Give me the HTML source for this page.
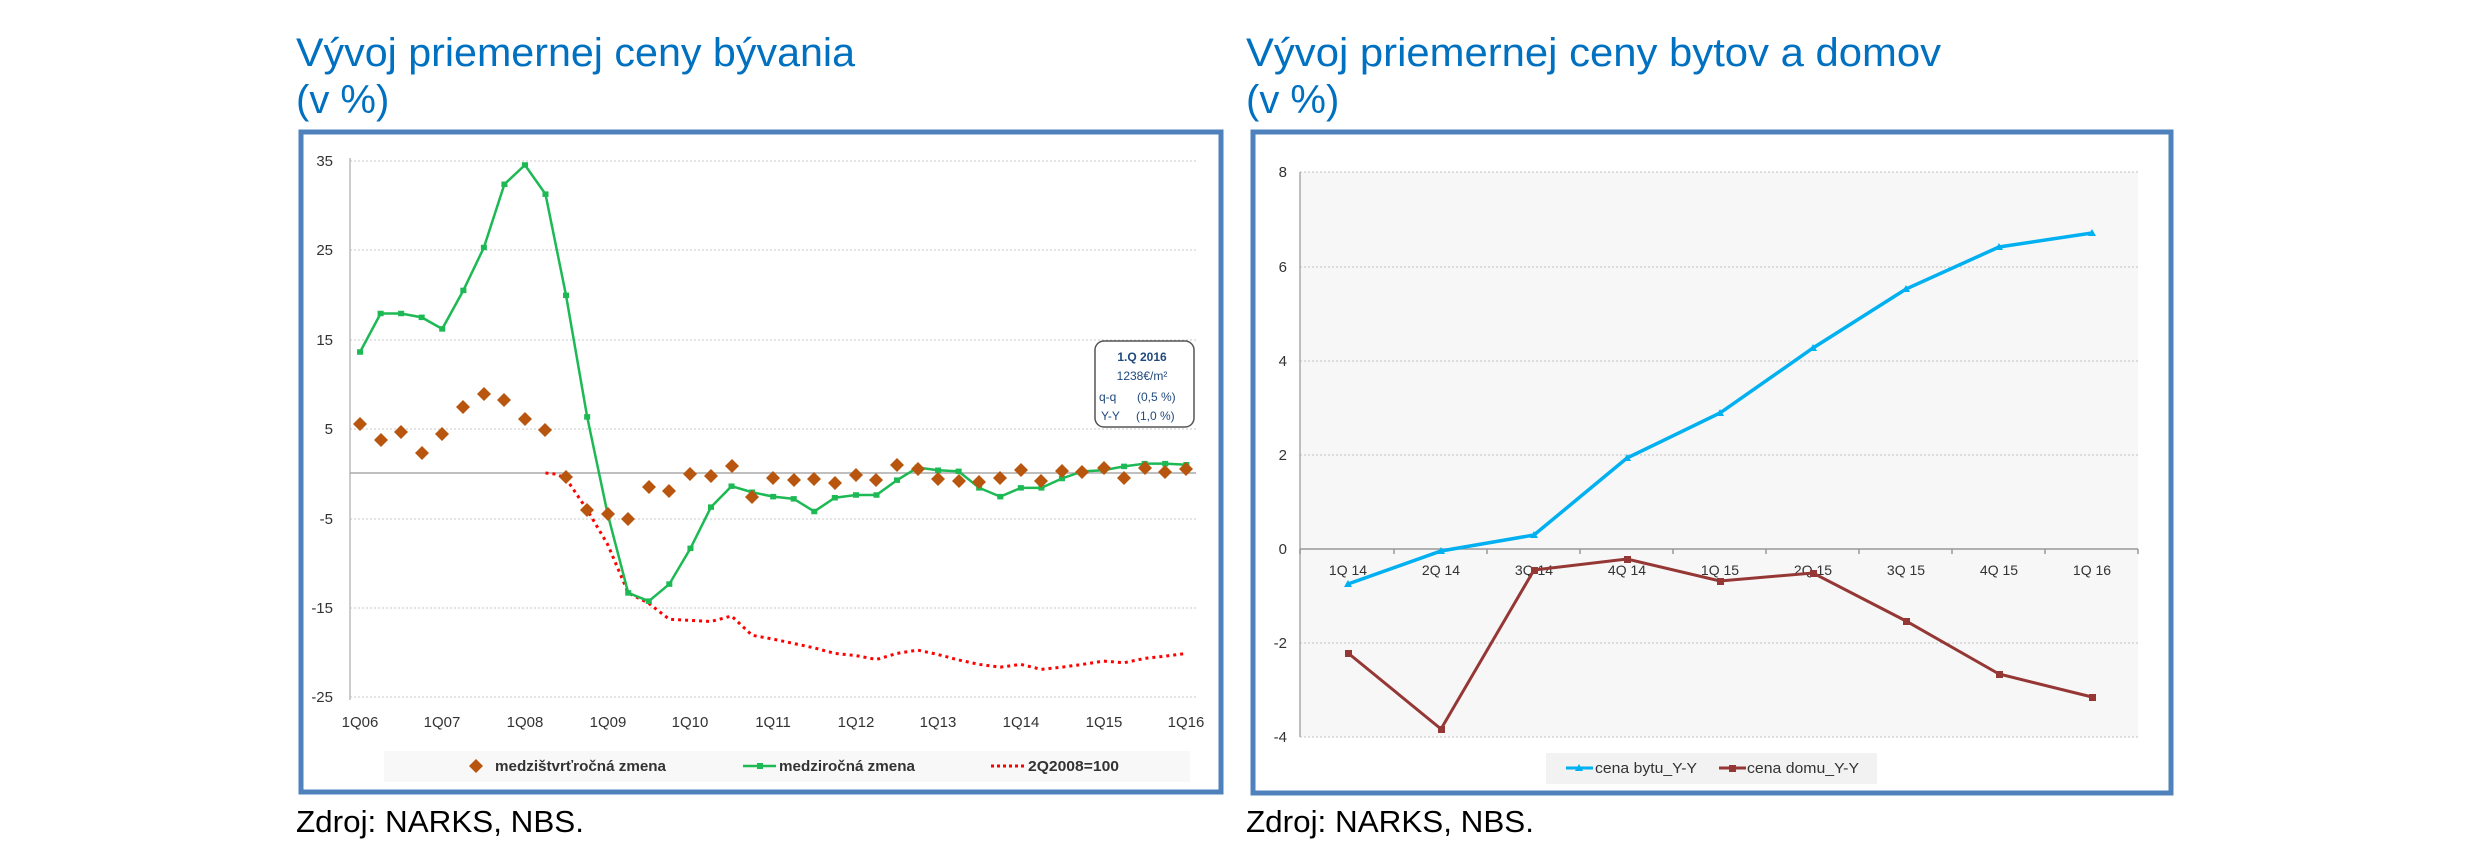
<!DOCTYPE html>
<html><head><meta charset="utf-8"><style>html,body{margin:0;padding:0;background:#fff}svg{display:block}text{font-family:"Liberation Sans","DejaVu Sans",sans-serif}</style></head>
<body>
<svg width="2481" height="861" viewBox="0 0 2481 861" xmlns="http://www.w3.org/2000/svg">
<rect width="2481" height="861" fill="#fff"/>
<!-- Titles -->
<g fill="#0070C0" font-size="40">
<text x="296" y="66" textLength="559" lengthAdjust="spacingAndGlyphs">Vývoj priemernej ceny bývania</text>
<text x="296" y="113">(v %)</text>
<text x="1246" y="66" textLength="695" lengthAdjust="spacingAndGlyphs">Vývoj priemernej ceny bytov a domov</text>
<text x="1246" y="113">(v %)</text>
</g>
<g fill="#000" font-size="31">
<text x="296" y="832" textLength="288" lengthAdjust="spacingAndGlyphs">Zdroj: NARKS, NBS.</text>
<text x="1246" y="832" textLength="288" lengthAdjust="spacingAndGlyphs">Zdroj: NARKS, NBS.</text>
</g>
<!-- Frames -->
<rect x="301" y="132" width="920" height="660" fill="#fff" stroke="#4F81BD" stroke-width="5"/>
<rect x="1253" y="132" width="918" height="661" fill="#fff" stroke="#4F81BD" stroke-width="5"/>

<!-- LEFT CHART -->
<g stroke="#c8c8c8" stroke-width="1" stroke-dasharray="2,2">
<line x1="350" y1="161" x2="1196" y2="161"/><line x1="350" y1="250" x2="1196" y2="250"/>
<line x1="350" y1="340" x2="1196" y2="340"/><line x1="350" y1="429" x2="1196" y2="429"/>
<line x1="350" y1="519" x2="1196" y2="519"/><line x1="350" y1="608" x2="1196" y2="608"/>
<line x1="350" y1="697" x2="1196" y2="697"/>
</g>
<line x1="350" y1="158" x2="350" y2="700" stroke="#bbb" stroke-width="1.5"/>
<line x1="350" y1="473" x2="1196" y2="473" stroke="#aaa" stroke-width="1.5"/>
<g fill="#333" font-size="15" text-anchor="end">
<text x="333" y="166">35</text><text x="333" y="255">25</text><text x="333" y="345">15</text>
<text x="333" y="434">5</text><text x="333" y="524">-5</text><text x="333" y="613">-15</text><text x="333" y="702">-25</text>
</g>
<g fill="#333" font-size="15" text-anchor="middle">
<text x="360" y="727">1Q06</text><text x="442" y="727">1Q07</text><text x="525" y="727">1Q08</text>
<text x="608" y="727">1Q09</text><text x="690" y="727">1Q10</text><text x="773" y="727">1Q11</text>
<text x="856" y="727">1Q12</text><text x="938" y="727">1Q13</text><text x="1021" y="727">1Q14</text>
<text x="1104" y="727">1Q15</text><text x="1186" y="727">1Q16</text>
</g>
<g transform="translate(290,0) scale(0.604,0.55)">
<polyline fill="none" stroke="#FF0000" stroke-width="3" stroke-dasharray="3,4" vector-effect="non-scaling-stroke" points="423,860 440,862 457,870 492,927 526,990 560,1078 594,1097 628,1126 663,1128 697,1130 731,1120 765,1155 800,1162 834,1170 868,1178 902,1188 937,1192 971,1199 1005,1188 1039,1182 1073,1190 1107,1200 1141,1208 1176,1213 1210,1208 1244,1217 1278,1213 1312,1208 1347,1202 1381,1205 1415,1197 1449,1193 1484,1188"/>
<polyline id="g" fill="none" stroke="#1DB954" stroke-width="2.5" vector-effect="non-scaling-stroke" points="116,640 150,570 184,570 218,577 252,598 287,528 321,450 355,335 389,300 423,353 457,537 492,758 526,935 560,1078 594,1093 628,1062 663,997 697,922 731,884 765,895 800,903 834,907 868,930 902,905 937,900 971,900 1005,873 1039,850 1073,855 1107,857 1141,887 1176,903 1210,887 1244,887 1278,870 1312,857 1347,855 1381,848 1415,843 1449,843 1484,845"/>
<g fill="#1DB954">
<rect x="111" y="635" width="10" height="10"/><rect x="145" y="565" width="10" height="10"/><rect x="179" y="565" width="10" height="10"/><rect x="213" y="572" width="10" height="10"/><rect x="247" y="593" width="10" height="10"/><rect x="282" y="523" width="10" height="10"/><rect x="316" y="445" width="10" height="10"/><rect x="350" y="330" width="10" height="10"/><rect x="384" y="295" width="10" height="10"/><rect x="418" y="348" width="10" height="10"/><rect x="452" y="532" width="10" height="10"/><rect x="487" y="753" width="10" height="10"/><rect x="555" y="1073" width="10" height="10"/><rect x="589" y="1088" width="10" height="10"/><rect x="623" y="1057" width="10" height="10"/><rect x="658" y="992" width="10" height="10"/><rect x="692" y="917" width="10" height="10"/><rect x="726" y="879" width="10" height="10"/><rect x="760" y="890" width="10" height="10"/><rect x="795" y="898" width="10" height="10"/><rect x="829" y="902" width="10" height="10"/><rect x="863" y="925" width="10" height="10"/><rect x="897" y="900" width="10" height="10"/><rect x="932" y="895" width="10" height="10"/><rect x="966" y="895" width="10" height="10"/><rect x="1000" y="868" width="10" height="10"/><rect x="1034" y="845" width="10" height="10"/><rect x="1068" y="850" width="10" height="10"/><rect x="1102" y="852" width="10" height="10"/><rect x="1136" y="882" width="10" height="10"/><rect x="1171" y="898" width="10" height="10"/><rect x="1205" y="882" width="10" height="10"/><rect x="1239" y="882" width="10" height="10"/><rect x="1273" y="865" width="10" height="10"/><rect x="1307" y="852" width="10" height="10"/><rect x="1342" y="850" width="10" height="10"/><rect x="1376" y="843" width="10" height="10"/><rect x="1410" y="838" width="10" height="10"/><rect x="1444" y="838" width="10" height="10"/><rect x="1479" y="840" width="10" height="10"/>
</g>
</g>
<g fill="#B8560F" id="dia">
<!-- diamonds in orig coords: x=290+0.604*zx, y=0.55*zy -->
<path d="M360,417 l7,7 -7,7 -7,-7z"/><path d="M381,433 l7,7 -7,7 -7,-7z"/><path d="M401,425 l7,7 -7,7 -7,-7z"/><path d="M422,446 l7,7 -7,7 -7,-7z"/><path d="M442,427 l7,7 -7,7 -7,-7z"/><path d="M463,400 l7,7 -7,7 -7,-7z"/><path d="M484,387 l7,7 -7,7 -7,-7z"/><path d="M504,393 l7,7 -7,7 -7,-7z"/><path d="M525,412 l7,7 -7,7 -7,-7z"/><path d="M545,423 l7,7 -7,7 -7,-7z"/><path d="M566,470 l7,7 -7,7 -7,-7z"/><path d="M587,503 l7,7 -7,7 -7,-7z"/><path d="M608,507 l7,7 -7,7 -7,-7z"/><path d="M628,512 l7,7 -7,7 -7,-7z"/><path d="M649,480 l7,7 -7,7 -7,-7z"/><path d="M669,484 l7,7 -7,7 -7,-7z"/><path d="M690,467 l7,7 -7,7 -7,-7z"/><path d="M711,469 l7,7 -7,7 -7,-7z"/><path d="M732,459 l7,7 -7,7 -7,-7z"/><path d="M752,490 l7,7 -7,7 -7,-7z"/><path d="M773,471 l7,7 -7,7 -7,-7z"/><path d="M794,473 l7,7 -7,7 -7,-7z"/><path d="M814,472 l7,7 -7,7 -7,-7z"/><path d="M835,476 l7,7 -7,7 -7,-7z"/><path d="M856,468 l7,7 -7,7 -7,-7z"/><path d="M876,473 l7,7 -7,7 -7,-7z"/><path d="M897,458 l7,7 -7,7 -7,-7z"/><path d="M918,462 l7,7 -7,7 -7,-7z"/><path d="M938,472 l7,7 -7,7 -7,-7z"/><path d="M959,474 l7,7 -7,7 -7,-7z"/><path d="M979,475 l7,7 -7,7 -7,-7z"/><path d="M1000,471 l7,7 -7,7 -7,-7z"/><path d="M1021,463 l7,7 -7,7 -7,-7z"/><path d="M1041,474 l7,7 -7,7 -7,-7z"/><path d="M1062,464 l7,7 -7,7 -7,-7z"/><path d="M1082,465 l7,7 -7,7 -7,-7z"/><path d="M1104,461 l7,7 -7,7 -7,-7z"/><path d="M1124,471 l7,7 -7,7 -7,-7z"/><path d="M1145,461 l7,7 -7,7 -7,-7z"/><path d="M1165,465 l7,7 -7,7 -7,-7z"/><path d="M1186,462 l7,7 -7,7 -7,-7z"/>
</g>
<!-- annotation -->
<rect x="1095" y="341" width="99" height="86" rx="9" fill="#fff" stroke="#555" stroke-width="1.5"/>
<g fill="#1F497D" font-size="12">
<text x="1142" y="361" text-anchor="middle" font-weight="bold">1.Q 2016</text>
<text x="1142" y="380" text-anchor="middle">1238€/m²</text>
<text x="1099" y="401">q-q</text><text x="1137" y="401">(0,5 %)</text>
<text x="1101" y="420">Y-Y</text><text x="1136" y="420">(1,0 %)</text>
</g>
<!-- left legend -->
<rect x="384" y="751" width="806" height="31" fill="#f8f8f8"/>
<path d="M476,759 l7,7 -7,7 -7,-7z" fill="#B8560F"/>
<g font-size="15" font-weight="bold" fill="#333">
<text x="495" y="771" textLength="171" lengthAdjust="spacingAndGlyphs">medzištvrťročná zmena</text>
<text x="779" y="771" textLength="136" lengthAdjust="spacingAndGlyphs">medziročná zmena</text>
<text x="1028" y="771" textLength="91" lengthAdjust="spacingAndGlyphs">2Q2008=100</text>
</g>
<line x1="743" y1="766" x2="776" y2="766" stroke="#1DB954" stroke-width="2.5"/>
<rect x="757" y="763" width="6" height="6" fill="#1DB954"/>
<line x1="991" y1="766" x2="1024" y2="766" stroke="#f00" stroke-width="3" stroke-dasharray="3,3"/>

<!-- RIGHT CHART -->
<rect x="1300" y="172" width="838" height="565" fill="#f7f7f7"/>
<g stroke="#c0c0c0" stroke-width="1" stroke-dasharray="2,2">
<line x1="1300" y1="172" x2="2138" y2="172"/><line x1="1300" y1="267" x2="2138" y2="267"/>
<line x1="1300" y1="361" x2="2138" y2="361"/><line x1="1300" y1="455" x2="2138" y2="455"/>
<line x1="1300" y1="643" x2="2138" y2="643"/><line x1="1300" y1="737" x2="2138" y2="737"/>
</g>
<line x1="1300" y1="172" x2="1300" y2="737" stroke="#aaa" stroke-width="1.5"/>
<line x1="1300" y1="549" x2="2138" y2="549" stroke="#999" stroke-width="1.5"/>
<g stroke="#999" stroke-width="1.5">
<line x1="1300" y1="549" x2="1300" y2="554"/><line x1="1394" y1="549" x2="1394" y2="554"/><line x1="1487" y1="549" x2="1487" y2="554"/><line x1="1580" y1="549" x2="1580" y2="554"/><line x1="1673" y1="549" x2="1673" y2="554"/><line x1="1766" y1="549" x2="1766" y2="554"/><line x1="1859" y1="549" x2="1859" y2="554"/><line x1="1952" y1="549" x2="1952" y2="554"/><line x1="2045" y1="549" x2="2045" y2="554"/><line x1="2138" y1="549" x2="2138" y2="554"/>
</g>
<g fill="#333" font-size="15" text-anchor="end">
<text x="1287" y="177">8</text><text x="1287" y="272">6</text><text x="1287" y="366">4</text>
<text x="1287" y="460">2</text><text x="1287" y="554">0</text><text x="1287" y="648">-2</text><text x="1287" y="742">-4</text>
</g>
<g fill="#333" font-size="14" text-anchor="middle">
<text x="1348" y="575">1Q 14</text><text x="1441" y="575">2Q 14</text><text x="1534" y="575">3Q 14</text>
<text x="1627" y="575">4Q 14</text><text x="1720" y="575">1Q 15</text><text x="1813" y="575">2Q 15</text>
<text x="1906" y="575">3Q 15</text><text x="1999" y="575">4Q 15</text><text x="2092" y="575">1Q 16</text>
</g>
<polyline fill="none" stroke="#00B0F0" stroke-width="3.5" points="1348,584 1441,551 1534,535 1627,458 1720,413 1813,348 1906,289 1999,247 2092,233"/>
<g fill="#00B0F0">
<path d="M1348,580 l4,7 -8,0z"/><path d="M1441,547 l4,7 -8,0z"/><path d="M1534,531 l4,7 -8,0z"/><path d="M1627,454 l4,7 -8,0z"/><path d="M1720,409 l4,7 -8,0z"/><path d="M1813,344 l4,7 -8,0z"/><path d="M1906,285 l4,7 -8,0z"/><path d="M1999,243 l4,7 -8,0z"/><path d="M2092,229 l4,7 -8,0z"/>
</g>
<polyline fill="none" stroke="#953735" stroke-width="3" points="1348,653 1441,729 1534,570 1627,559 1720,581 1813,573 1906,621 1999,674 2092,697"/>
<g fill="#953735">
<rect x="1345" y="650" width="7" height="7"/><rect x="1438" y="726" width="7" height="7"/><rect x="1531" y="567" width="7" height="7"/><rect x="1624" y="556" width="7" height="7"/><rect x="1717" y="578" width="7" height="7"/><rect x="1810" y="570" width="7" height="7"/><rect x="1903" y="618" width="7" height="7"/><rect x="1996" y="671" width="7" height="7"/><rect x="2089" y="694" width="7" height="7"/>
</g>
<rect x="1546" y="753" width="331" height="31" fill="#f2f2f2"/>
<line x1="1566" y1="768" x2="1593" y2="768" stroke="#00B0F0" stroke-width="3"/>
<path d="M1579,764 l4,7 -8,0z" fill="#00B0F0"/>
<line x1="1719" y1="768" x2="1746" y2="768" stroke="#953735" stroke-width="3"/>
<rect x="1729" y="765" width="7" height="7" fill="#953735"/>
<g font-size="15" fill="#333">
<text x="1595" y="773" textLength="102" lengthAdjust="spacingAndGlyphs">cena bytu_Y-Y</text>
<text x="1747" y="773" textLength="112" lengthAdjust="spacingAndGlyphs">cena domu_Y-Y</text>
</g>
</svg>
</body></html>
